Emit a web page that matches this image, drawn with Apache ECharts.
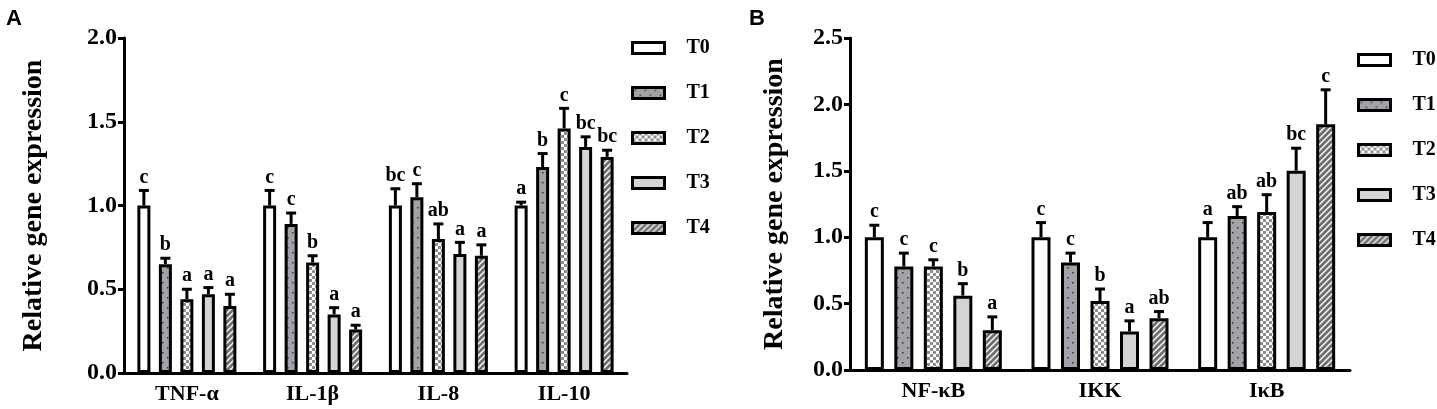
<!DOCTYPE html>
<html>
<head>
<meta charset="utf-8">
<script src="https://cdn.jsdelivr.net/npm/echarts@6/dist/echarts.min.js"></script>
<style>
  html, body { margin: 0; padding: 0; background: #fff; }
  #main { width: 1437px; height: 409px; }
</style>
</head>
<body>
<div id="main"></div>
<script>
// categories
const catsA = ['TNF-α', 'IL-1β', 'IL-8', 'IL-10'];
const catsB = ['NF-κB', 'IKK', 'IκB'];
const groups = ['T0', 'T1', 'T2', 'T3', 'T4'];

// panel A: means / SE / letters, one row per treatment
const meanA = [
  [1.00, 1.00, 1.00, 1.00],
  [0.65, 0.89, 1.05, 1.23],
  [0.44, 0.66, 0.80, 1.46],
  [0.47, 0.35, 0.71, 1.35],
  [0.40, 0.26, 0.70, 1.29]
];
const errA = [
  [0.09, 0.09, 0.10, 0.02],
  [0.035, 0.065, 0.08, 0.08],
  [0.06, 0.04, 0.09, 0.12],
  [0.04, 0.04, 0.07, 0.06],
  [0.07, 0.025, 0.065, 0.04]
];
const letA = [
  ['c', 'c', 'bc', 'a'],
  ['b', 'c', 'c', 'b'],
  ['a', 'b', 'ab', 'c'],
  ['a', 'a', 'a', 'bc'],
  ['a', 'a', 'a', 'bc']
];

// panel B
const meanB = [
  [1.00, 1.00, 1.00],
  [0.78, 0.81, 1.16],
  [0.78, 0.52, 1.19],
  [0.56, 0.29, 1.50],
  [0.30, 0.39, 1.85]
];
const errB = [
  [0.09, 0.11, 0.11],
  [0.10, 0.07, 0.07],
  [0.05, 0.09, 0.13],
  [0.09, 0.08, 0.17],
  [0.10, 0.05, 0.26]
];
const letB = [
  ['c', 'c', 'a'],
  ['c', 'c', 'ab'],
  ['c', 'b', 'ab'],
  ['b', 'a', 'bc'],
  ['a', 'ab', 'c']
];

const serif = '"Liberation Serif", "Times New Roman", serif';

// fill patterns
function tile(w, h, draw) {
  const c = document.createElement('canvas');
  c.width = w; c.height = h;
  draw(c.getContext('2d'));
  return { image: c, repeat: 'repeat' };
}
const fills = [
  '#ffffff',
  tile(10, 10, ctx => {  // grey with dots
    ctx.fillStyle = '#a2a2a8'; ctx.fillRect(0, 0, 10, 10);
    ctx.fillStyle = '#333';
    ctx.fillRect(2, 2, 1.5, 1.5); ctx.fillRect(7, 7, 1.5, 1.5);
  }),
  tile(6, 6, ctx => {  // checker
    ctx.fillStyle = '#ffffff'; ctx.fillRect(0, 0, 6, 6);
    ctx.fillStyle = '#8e8e8e';
    ctx.fillRect(0, 0, 3, 3); ctx.fillRect(3, 3, 3, 3);
  }),
  '#d4d4d4',
  tile(6, 6, ctx => {  // dark hatch
    ctx.fillStyle = '#6f6f6f'; ctx.fillRect(0, 0, 6, 6);
    ctx.strokeStyle = '#fff'; ctx.lineWidth = 1.4;
    ctx.beginPath();
    ctx.moveTo(-1, 7); ctx.lineTo(7, -1);
    ctx.moveTo(-4, 4); ctx.lineTo(4, -4);
    ctx.moveTo(2, 10); ctx.lineTo(10, 2);
    ctx.stroke();
  })
];

const barWA = 13, pitchA = 21.5;
const barWB = 19, pitchB = 29.5;

function barSeries(means, idx, barW, pitch) {
  return groups.map((g, i) => ({
    name: g,
    type: 'bar',
    xAxisIndex: idx,
    yAxisIndex: idx,
    barWidth: barW,
    barGap: ((pitch - barW) / barW * 100) + '%',
    itemStyle: { color: fills[i], borderColor: '#000', borderWidth: 3 },
    data: means[i]
  }));
}

function errSeries(means, errs, lets, idx, pitch) {
  const rows = [], labels = [];
  means.forEach((row, g) => row.forEach((v, c) => {
    rows.push([c, g, v, errs[g][c]]);
    labels.push(lets[g][c]);
  }));
  return {
    type: 'custom',
    xAxisIndex: idx,
    yAxisIndex: idx,
    z: 5,
    data: rows,
    encode: { x: 0, y: 2 },
    renderItem: (params, api) => {
      const c = api.value(0), g = api.value(1), v = api.value(2), e = api.value(3);
      const base = api.coord([c, v]);
      const top = api.coord([c, v + e]);
      const x = base[0] + (g - 2) * pitch;
      return {
        type: 'group',
        children: [
          { type: 'line', shape: { x1: x, y1: base[1], x2: x, y2: top[1] },
            style: { stroke: '#000', lineWidth: 3 } },
          { type: 'line', shape: { x1: x - 5, y1: top[1], x2: x + 5, y2: top[1] },
            style: { stroke: '#000', lineWidth: 3 } },
          { type: 'text', x: x, y: top[1] - 3,
            style: { text: labels[params.dataIndex], fill: '#000', font: 'bold 20px ' + serif,
                     align: 'center', verticalAlign: 'bottom' } }
        ]
      };
    }
  };
}

function yAxis(idx, max, gap) {
  return {
    type: 'value', gridIndex: idx, min: 0, max: max, interval: 0.5,
    name: 'Relative gene expression', nameLocation: 'middle', nameGap: gap, nameRotate: 90,
    nameTextStyle: { fontFamily: serif, fontWeight: 'bold', fontSize: 28, color: '#000' },
    axisLine: { show: true, lineStyle: { color: '#000', width: 3 } },
    axisTick: { show: true, length: 6, lineStyle: { color: '#000', width: 3 } },
    axisLabel: { margin: 7, color: '#000', fontFamily: serif, fontWeight: 'bold', fontSize: 24,
                 formatter: v => v.toFixed(1) },
    splitLine: { show: false }
  };
}

function xAxis(idx, cats) {
  return {
    type: 'category', gridIndex: idx, data: cats,
    axisLine: { lineStyle: { color: '#000', width: 3 } },
    axisTick: { alignWithLabel: true, length: 6, lineStyle: { color: '#000', width: 3 } },
    axisLabel: { margin: 10, color: '#000', fontFamily: serif, fontWeight: 'bold', fontSize: 22 }
  };
}

function legend(left, top) {
  return {
    data: groups, orient: 'vertical', left: left, top: top, padding: 0,
    icon: 'rect', itemWidth: 32, itemHeight: 11, itemGap: 25,
    itemStyle: { borderColor: '#000', borderWidth: 3 },
    textStyle: { fontFamily: serif, fontWeight: 'bold', fontSize: 20, color: '#000',
                 lineHeight: 20, padding: [0, 0, 0, 17] },
    selectedMode: false
  };
}

var myChart = echarts.init(document.getElementById('main'));

var option = {
  animation: false,
  title: [
    { text: 'A', left: 1, top: 3, textStyle: { fontFamily: '"Liberation Sans", Arial, sans-serif', fontWeight: 'bold', fontSize: 22, color: '#000' } },
    { text: 'B', left: 744, top: 3, textStyle: { fontFamily: '"Liberation Sans", Arial, sans-serif', fontWeight: 'bold', fontSize: 22, color: '#000' } }
  ],
  grid: [
    { left: 124, top: 38, width: 503, height: 335 },
    { left: 850, top: 38, width: 500, height: 332 }
  ],
  legend: [legend(631, 38), legend(1357, 50)],
  xAxis: [xAxis(0, catsA), xAxis(1, catsB)],
  yAxis: [yAxis(0, 2, 76), yAxis(1, 2.5, 61)],
  series: [
    ...barSeries(meanA, 0, barWA, pitchA),
    ...barSeries(meanB, 1, barWB, pitchB),
    errSeries(meanA, errA, letA, 0, pitchA),
    errSeries(meanB, errB, letB, 1, pitchB)
  ]
};

myChart.setOption(option);
</script>
</body>
</html>
